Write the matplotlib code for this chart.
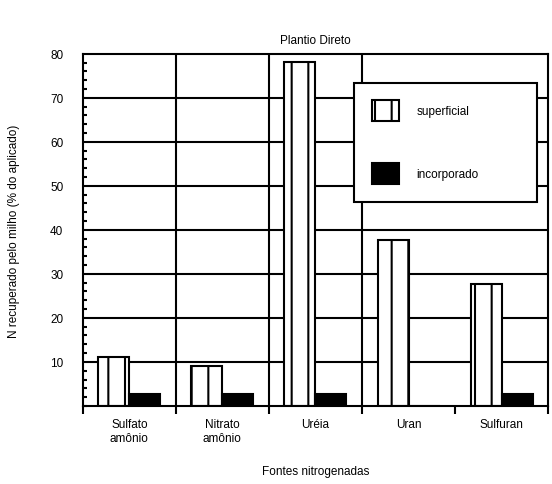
import numpy as np
import matplotlib.pyplot as plt
from matplotlib.ticker import MultipleLocator

# Data
fontes = ["Sulfato\namônio", "Nitrato\namônio", "Uréia", "Uran", "Sulfuran"]
superficial = [11.1, 9.1, 78.2, 37.6, 27.7]
incorporado = [2.7, 2.7, 2.7, 0.0, 2.7]

plt.rcParams['hatch.linewidth'] = 1.5
fs = 8.5

fig = plt.figure(figsize=(5.52, 4.85), dpi=100)
ax = fig.add_axes([0.150, 0.161, 0.843, 0.726])

x = np.arange(len(fontes))
w = 1 / 3

# Vertical lines between groups
for b in [0.5, 1.5, 2.5]:
    ax.axvline(b, color='black', linewidth=1.5, zorder=1)
# Horizontal grid lines
for v in range(10, 80, 10):
    ax.axhline(v, color='black', linewidth=1.5, zorder=1)

ax.bar(x - w / 2, superficial, w, color='white', edgecolor='black',
       linewidth=1.5, hatch='|', label='superficial', zorder=2)
ax.bar(x + w / 2, incorporado, w, color='black', edgecolor='black',
       linewidth=1.5, label='incorporado', zorder=2)

ax.set_xlim(-0.5, 4.5)
ax.set_ylim(0, 80)
ax.set_xticks(np.arange(-0.5, 5, 1))
ax.set_xticklabels([])
ax.set_xticks(x, minor=True)
ax.set_xticklabels(fontes, minor=True, fontsize=fs, family='Liberation Sans')
ax.tick_params(axis='x', which='major', direction='out', length=6, width=1.5)
ax.tick_params(axis='x', which='minor', length=0, pad=9)

ax.set_yticks(np.arange(10, 81, 10))
ax.yaxis.set_minor_locator(MultipleLocator(2))
ax.tick_params(axis='y', which='major', direction='in', length=0, labelsize=fs, pad=14)
ax.tick_params(axis='y', which='minor', direction='in', length=3, width=1.5)
for lbl in ax.get_yticklabels():
    lbl.set_family('Liberation Sans')

for s in ax.spines.values():
    s.set_linewidth(1.5)

ax.set_title("Plantio Direto", fontsize=fs, family='Liberation Sans', pad=8)
ax.set_xlabel("Fontes nitrogenadas", fontsize=fs, family='Liberation Sans', labelpad=15)
ax.set_ylabel("N recuperado pelo milho (% do aplicado)", fontsize=fs,
              family='Liberation Sans', labelpad=22)

leg = ax.legend(loc='upper left', bbox_to_anchor=(0.583, 0.582, 0.394, 0.336),
                mode='expand', fontsize=fs, frameon=True, fancybox=False,
                framealpha=1, edgecolor='black', borderpad=1.5, labelspacing=3.6,
                handlelength=2.3, handleheight=2.3, handletextpad=1.5,
                borderaxespad=0)
leg.get_frame().set_linewidth(1.5)
for t in leg.get_texts():
    t.set_family('Liberation Sans')

fig.savefig("out.png", dpi=100)
